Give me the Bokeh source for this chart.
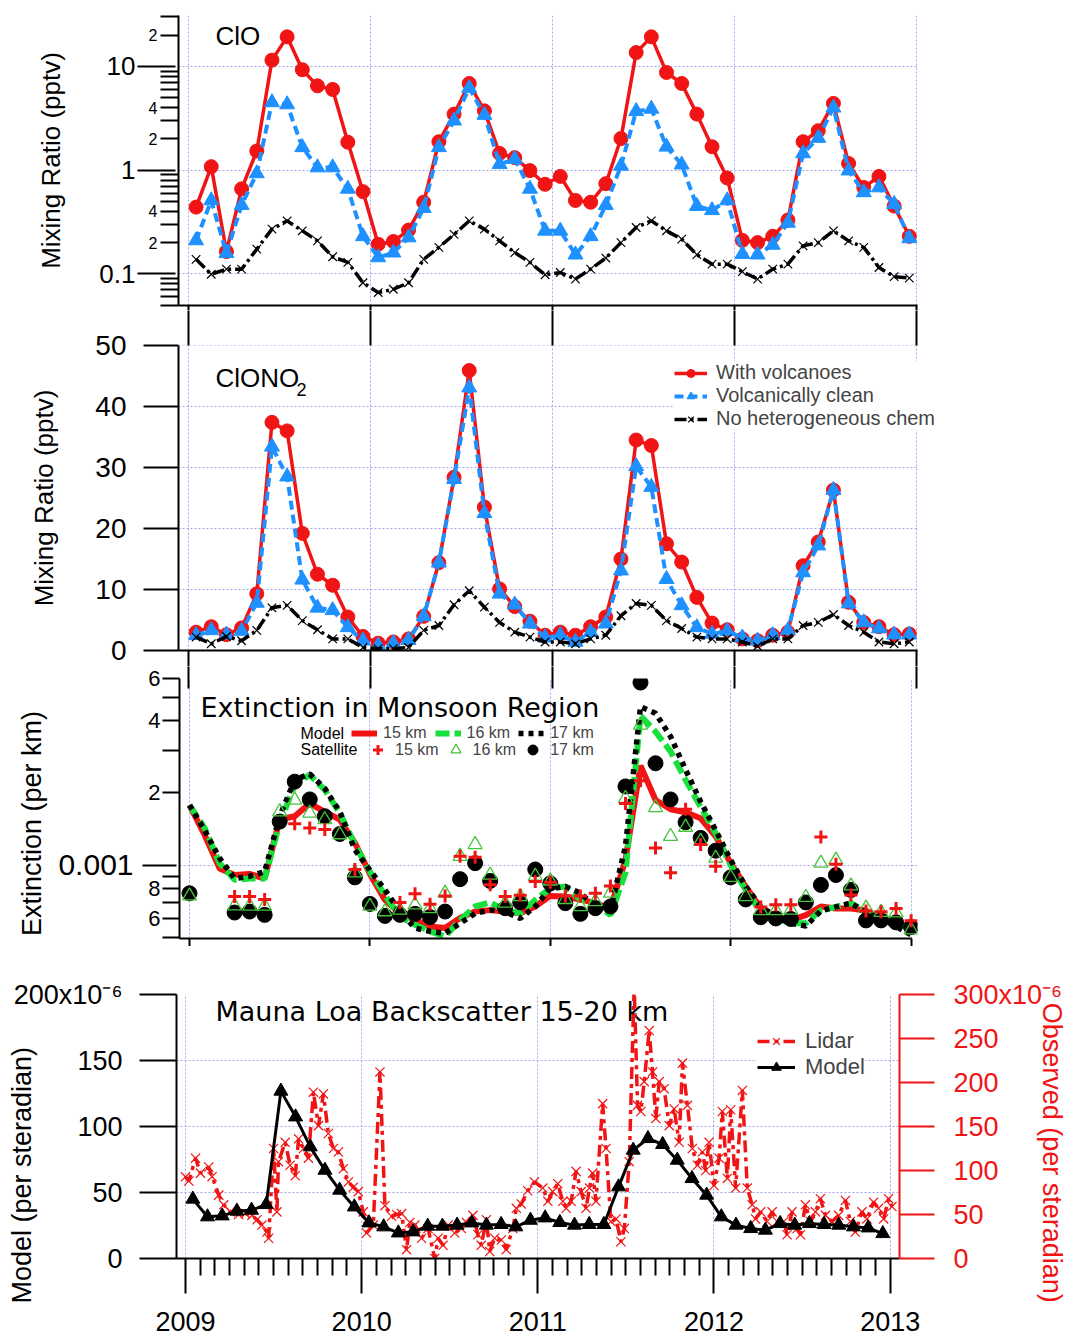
import numpy as np
from bokeh.plotting import figure
from bokeh.models import (Range1d, LinearAxis, LogAxis, FixedTicker, Grid, Label, Legend,
                          LegendItem, CustomJSTickFormatter)
from bokeh.embed import file_html
from bokeh.resources import INLINE

FONT = "Liberation Sans"
TFONT = "DejaVu Sans"
RED = "#f01414"
BLUE = "#1e90ff"
GREEN = "#16e03c"
TRI = "#46c43a"
GRIDC = "#a3a3ee"
NA = np.nan
NBSP = "\u00a0"

# ---------------- time axes ----------------
years = [2009, 2010, 2011, 2012, 2013]
n_months = 48
t_mid = 2009 + (np.arange(n_months) + 0.5) / 12       # mid-month model output
t_start = 2009 + np.arange(n_months + 1) / 12         # month-start (extinction panel)
month_ticks = [2009 + k / 12 for k in range(1, 48) if k % 12]

# ---------------- panel 1: ClO (pptv) ----------------
clo_volc = [0.44, 1.08, 0.164, 0.66, 1.53, 11.5, 19.3, 9.3, 6.5, 6.0, 1.86, 0.62,
            0.193, 0.205, 0.264, 0.49, 1.88, 3.47, 6.85, 3.73, 1.45, 1.32, 0.99, 0.73,
            0.87, 0.51, 0.49, 0.74, 2.02, 13.6, 19.3, 8.75, 6.85, 3.47, 1.68, 0.84,
            0.21, 0.20, 0.23, 0.33, 1.88, 2.4, 4.4, 1.16, 0.68, 0.87, 0.45, 0.23]
clo_clean = [0.21, 0.51, 0.158, 0.46, 0.93, 4.5, 4.3, 1.66, 1.06, 1.06, 0.66, 0.23,
             0.144, 0.16, 0.224, 0.43, 1.66, 3.0, 6.2, 3.4, 1.14, 1.28, 0.66, 0.26,
             0.26, 0.153, 0.23, 0.46, 1.1, 3.7, 3.9, 1.68, 1.13, 0.45, 0.41, 0.51,
             0.155, 0.153, 0.19, 0.31, 1.45, 2.04, 4.0, 0.99, 0.61, 0.68, 0.47, 0.22]
clo_nohet = [0.138, 0.099, 0.111, 0.111, 0.173, 0.27, 0.324, 0.26, 0.208, 0.146, 0.129, 0.082,
             0.066, 0.071, 0.082, 0.138, 0.18, 0.24, 0.324, 0.27, 0.208, 0.16, 0.129, 0.098,
             0.103, 0.089, 0.111, 0.142, 0.2, 0.28, 0.324, 0.26, 0.216, 0.153, 0.124, 0.124,
             0.105, 0.089, 0.111, 0.124, 0.186, 0.2, 0.26, 0.208, 0.18, 0.115, 0.094, 0.091]
clo_major = [0.1, 1, 10]
clo_minor_lab = [0.2, 0.4, 2, 4, 20]
clo_minor = [0.05, 0.06, 0.07, 0.08, 0.09, 0.3, 0.5, 0.6, 0.7, 0.8, 0.9,
             3, 5, 6, 7, 8, 9, 30]

# ---------------- panel 2: ClONO2 (pptv) ----------------
clono2_volc = [3.0, 3.9, 2.6, 3.7, 9.3, 37.4, 36.0, 19.2, 12.5, 10.7, 5.5, 2.3,
               1.2, 1.4, 1.9, 5.6, 14.4, 28.4, 45.9, 23.5, 10.1, 7.2, 4.8, 2.5,
               3.0, 2.5, 3.9, 5.5, 15.0, 34.5, 33.6, 17.5, 14.5, 8.7, 4.5, 3.4,
               1.9, 1.6, 2.5, 3.0, 13.9, 17.8, 26.3, 7.9, 4.6, 3.9, 2.6, 2.7]
clono2_clean = [2.5, 3.3, 2.6, 3.2, 7.8, 33.4, 28.5, 11.6, 7.0, 6.6, 3.8, 1.6,
                0.8, 1.2, 1.7, 5.6, 14.4, 28.1, 43.1, 22.5, 9.3, 7.5, 4.4, 2.1,
                2.5, 1.4, 3.0, 4.4, 13.1, 30.2, 26.8, 11.7, 7.4, 3.8, 2.7, 3.2,
                2.1, 1.6, 2.5, 3.3, 12.8, 17.2, 26.3, 7.7, 4.6, 3.6, 2.6, 2.6]
clono2_nohet = [2.2, 1.1, 2.3, 1.6, 3.3, 7.0, 7.4, 4.9, 3.4, 1.9, 1.9, 0.5,
                0.3, 0.3, 0.5, 3.3, 4.1, 7.5, 9.8, 7.1, 4.6, 3.0, 2.2, 1.4,
                1.4, 1.1, 1.9, 2.5, 5.7, 7.7, 7.4, 4.9, 3.6, 2.2, 1.9, 1.9,
                1.4, 0.7, 1.9, 1.9, 4.1, 4.6, 5.9, 4.1, 3.0, 1.4, 1.1, 1.4]
clono2_ticks = [0, 10, 20, 30, 40, 50]

# ---------------- panel 3: extinction (units of 1e-4 per km) ----------------
EXT_UNIT = 1e-4
mod15 = [17.8, 13.4, 9.7, 9.1, 9.2, 8.8, 15.5, 16.0, 18.1, 16.7, 15.5, 12.4,
         9.2, 7.17, 6.3, 5.92, 5.55, 5.47, 6.03, 6.41, 6.5, 6.41, 6.3, 6.73,
         7.45, 7.4, 7.2, 6.95, 6.6, 10.5, 26.0, 18.7, 17.1, 16.6, 15.7, 13.2,
         10.2, 8.15, 6.62, 6.1, 5.91, 6.2, 6.73, 6.6, 6.6, 6.47, 5.9, 5.7, 5.55]
mod16 = [17.8, 14.3, 10.2, 8.7, 8.8, 8.8, 15.0, 21.6, 23.8, 20.6, 16.5, 12.2,
         9.4, 7.5, 6.1, 5.65, 5.3, 5.05, 5.9, 6.73, 7.0, 6.5, 6.3, 7.17,
         8.0, 8.15, 7.2, 6.95, 6.2, 9.3, 42.0, 36.0, 29.8, 22.7, 17.5, 13.6,
         10.0, 7.9, 6.4, 6.0, 5.73, 5.73, 6.5, 6.7, 6.95, 6.4, 6.1, 5.8, 5.37]
mod17 = [17.8, 14.0, 10.7, 8.8, 9.0, 9.4, 16.0, 22.7, 24.0, 20.9, 16.7, 11.6,
         9.55, 7.9, 6.4, 5.47, 5.3, 5.2, 5.73, 6.3, 6.5, 6.4, 6.0, 6.73,
         8.0, 8.15, 7.65, 6.73, 6.5, 12.0, 45.8, 43.0, 34.4, 25.0, 18.4, 14.0,
         10.5, 8.15, 6.73, 6.1, 5.73, 5.58, 6.45, 6.7, 6.95, 6.35, 6.0, 5.55, 5.13]
sat15 = [NA, NA, NA, 7.4, 7.4, 7.2, NA, 14.9, 14.3, 14.1, NA, 9.6,
         NA, NA, 7.0, 7.6, 6.87, 7.45, 10.9, 10.8, 8.3, 7.4, 7.5, 8.55,
         8.5, 7.45, 7.45, 7.65, 8.2, 18.1, 22.5, 11.8, 9.3, 17.1, 12.2, 9.9,
         NA, NA, 6.7, 6.84, 6.84, NA, 13.1, 10.1, 7.52, 6.45, 6.4, 6.6, 5.87]
sat16 = [7.45, NA, NA, 6.77, 6.75, 6.75, 16.7, 18.7, 16.5, 15.5, 13.4, 9.3,
         6.75, 6.4, 6.5, 6.84, 6.6, 7.65, 10.9, 12.2, 9.1, 6.95, 7.4, 9.0,
         8.6, 7.2, 6.73, 7.06, 7.65, 19.0, 38.4, 17.4, 13.2, 14.4, 12.6, 10.7,
         8.9, 7.4, 6.47, 6.47, 6.5, 7.35, 10.2, 10.5, 8.2, 6.64, 6.36, 6.33, 5.38]
sat17 = [7.64, NA, NA, 6.35, 6.41, 6.21, 15.2, 22.3, 18.8, 16.0, 13.5, 8.9,
         6.9, 6.15, 6.21, 6.27, 6.08, 6.41, 8.75, 10.2, 8.6, 6.62, 7.0, 9.6,
         8.4, 6.95, 6.27, 6.62, 6.73, 21.3, 57.7, 26.6, 18.8, 15.1, 13.0, 11.5,
         8.9, 7.2, 6.07, 6.0, 5.97, 7.0, 8.28, 9.1, 7.89, 5.89, 5.89, 5.78, 5.52]
ext_major = [0.001]
ext_minor_lab = [6e-4, 8e-4, 2e-3, 4e-3, 6e-3]
ext_minor = [5e-4, 7e-4, 9e-4, 3e-3, 5e-3]

# ---------------- panel 4: Mauna Loa backscatter (1e-6 per sr) ----------------
bs_model = [45, 31.6, 32.3, 35.9, 36.6, 40.9, 126.8, 107.3, 84.6, 66.9, 51.8, 39.1,
            27.0, 24.0, 19.4, 20.2, 24.5, 24.5, 25.3, 27.0, 25.3, 25.8, 24.0, 29.0,
            30.8, 27.3, 25.3, 25.8, 25.8, 54.3, 82.1, 90.9, 86.4, 74.5, 60.6, 48.0,
            31.6, 25.3, 22.7, 21.5, 26.5, 25.3, 26.5, 25.8, 25.3, 24.0, 23.2, 18.9]
lidar_yr = [0.000, 0.019, 0.057, 0.085, 0.132, 0.151, 0.189, 0.217, 0.255, 0.302, 0.340, 0.377,
            0.406, 0.434, 0.462, 0.472, 0.500, 0.519, 0.528, 0.566, 0.594, 0.623, 0.642, 0.670,
            0.698, 0.726, 0.755, 0.783, 0.811, 0.840, 0.868, 0.896, 0.925, 0.953, 0.981, 1.009,
            1.028, 1.066, 1.104, 1.132, 1.170, 1.198, 1.227, 1.255, 1.274, 1.302, 1.340, 1.377,
            1.415, 1.434, 1.462, 1.491, 1.528, 1.566, 1.595, 1.632, 1.660, 1.679, 1.708, 1.727,
            1.755, 1.793, 1.821, 1.858, 1.878, 1.906, 1.943, 1.981,
            2.028, 2.057, 2.085, 2.113, 2.142, 2.161, 2.189, 2.217, 2.246, 2.274, 2.293, 2.311,
            2.330, 2.368, 2.387, 2.415, 2.444, 2.472, 2.491, 2.519, 2.547, 2.566, 2.585, 2.604,
            2.632, 2.651, 2.670, 2.689, 2.717, 2.746, 2.774, 2.802, 2.821, 2.849, 2.877, 2.906,
            2.934, 2.953, 2.972, 3.000, 3.029, 3.047, 3.076, 3.095, 3.123, 3.161, 3.189, 3.217,
            3.236, 3.265, 3.302, 3.330, 3.359, 3.397, 3.415, 3.443, 3.472, 3.491, 3.519, 3.548,
            3.576, 3.604, 3.633, 3.670, 3.708, 3.746, 3.774, 3.802, 3.840, 3.868, 3.906, 3.934,
            3.963, 3.991, 4.010]
lidar_val = [92.8, 88, 114, 97, 104, 93, 72, 61, 53, 50, 51, 49,
             44, 38, 30, 23, 125, 53, 110, 132, 106, 94, 136, 125,
             114, 189, 151, 187, 142, 125, 121, 102, 87, 81, 76, 53,
             29, 38, 212, 60, 48, 50, 51, 10, 41, 38, 23, 34,
             0, 23, 15, 38, 29, 34, 41, 49, 27, 15, 44, 8,
             23, 21, 10, 34, 57, 62, 77, 87,
             80, 65, 76, 85, 65, 57, 65, 99, 76, 57, 80, 97,
             65, 176, 125, 42, 45, 19, 34, 110, 310, 174, 167, 201,
             259, 212, 159, 201, 193, 151, 170, 132, 222, 174, 125, 106,
             121, 100, 132, 83, 114, 167, 91, 169, 80, 191, 80, 61,
             45, 53, 42, 53, 42, 42, 27, 53, 34, 27, 61, 42,
             53, 68, 49, 42, 49, 66, 42, 30, 53, 45, 64, 57,
             45, 68, 59]
bs_left_ticks = [0, 50, 100, 150, 200]
bs_right_ticks = [0, 50, 100, 150, 200, 250, 300]

# ---------------- ranges (decimal years) ----------------
X1 = (2008.9451, 2013.0033)      # panel 1 frame 178..917
X2 = (2008.9451, 2013.2779)      # panel 2 frame 178..967 (room for legend)
X2_AXIS_END = 2013.0033
X3 = (2008.9446, 2013.0355)      # panel 3 frame 179..917
X3_P2 = (2008.9506, 2013.0033)   # panel-2 mapping seen from panel 3 frame
X4 = (2008.949, 2013.053)        # panel 4 frame 176..901


def make_fig(height, xr, yr, ytype, left, right, top, bottom):
    p = figure(width=1070, height=height, x_range=Range1d(*xr), y_range=Range1d(*yr),
               y_axis_type=ytype, output_backend="svg", toolbar_location=None,
               min_border_left=left, min_border_right=right,
               min_border_top=top, min_border_bottom=bottom)
    p.outline_line_color = None
    p.grid.visible = False
    p.background_fill_color = "white"
    p.border_fill_color = "white"
    return p


def style_axis(ax, tick_out, minor_out=0, font_size="26px", standoff=5, color="black"):
    ax.axis_line_width = 2
    ax.axis_line_color = color
    ax.major_tick_line_width = 2
    ax.major_tick_line_color = color
    ax.minor_tick_line_width = 2
    ax.minor_tick_line_color = color
    ax.major_tick_out = tick_out
    ax.major_tick_in = 0
    ax.minor_tick_out = minor_out
    ax.minor_tick_in = 0
    ax.major_label_text_font = FONT
    ax.major_label_text_font_size = font_size
    ax.major_label_text_color = color
    ax.major_label_standoff = standoff
    ax.axis_label_text_font = FONT
    ax.axis_label_text_font_style = "normal"
    ax.axis_label_text_color = color


def tick_only(ax, out, tin=0, line=True, bounds=None):
    """Year tick marks without labels (drawn as minor ticks)."""
    ax.ticker = FixedTicker(ticks=[], minor_ticks=years)
    ax.major_tick_out = 0
    ax.major_tick_in = 0
    ax.major_label_standoff = 0
    ax.minor_tick_out = out
    ax.minor_tick_in = tin
    ax.minor_tick_line_width = 2
    ax.minor_tick_line_color = "black"
    ax.axis_line_width = 2
    ax.axis_line_color = "black" if line else None
    if bounds is not None:
        ax.bounds = bounds


def add_grid(p, dim, ticks):
    g = Grid(dimension=dim, ticker=FixedTicker(ticks=ticks), grid_line_color=GRIDC,
             grid_line_dash="2 2", grid_line_width=1)
    p.add_layout(g)


def frame_label(p, x, y, text, size, font=FONT, baseline="middle", level="annotation"):
    lab = Label(x=x, y=y, x_units="screen", y_units="screen", text=text,
                text_font=font, text_font_size=size, text_align="left",
                text_baseline=baseline, text_color="black")
    lab.level = level
    p.add_layout(lab)


num_fmt = CustomJSTickFormatter(code="return String(Math.round(tick * 1000) / 1000);")
lead_fmt = CustomJSTickFormatter(
    code="const e = Math.floor(Math.log10(tick) + 1e-9); return String(Math.round(tick / Math.pow(10, e)));")

# ================= Panel 1 : ClO =================
p1 = make_fig(310, X1, (0.0495, 31), "log", 178, 153, 15, 5)
tick_only(p1.below[0], 5)
ya = p1.left[0]                                   # inner axis: 2/4 sub-decade labels
ya.ticker = FixedTicker(ticks=clo_minor_lab, minor_ticks=clo_minor)
ya.formatter = lead_fmt
style_axis(ya, 18, 18, "16px", 3)
yb = LogAxis(ticker=FixedTicker(ticks=clo_major), formatter=num_fmt)   # outer: decades
style_axis(yb, 8, 0, "26px", 2)
yb.major_tick_in = 30
yb.axis_line_color = None
yb.axis_label = "Mixing Ratio (pptv)"
yb.axis_label_text_font_size = "26px"
yb.axis_label_standoff = 30
p1.add_layout(yb, "left")
add_grid(p1, 0, years)
add_grid(p1, 1, clo_major)

p1.line(t_mid, clo_volc, color=RED, line_width=3.5)
p1.scatter(t_mid, clo_volc, marker="circle", size=14, color=RED)
p1.line(t_mid, clo_clean, color=BLUE, line_width=4, line_dash="9 5")
p1.scatter(t_mid, clo_clean, marker="triangle", size=15, color=BLUE)
p1.line(t_mid, clo_nohet, color="black", line_width=3.5, line_dash="12 4 3 4")
p1.scatter(t_mid, clo_nohet, marker="x", size=12, line_color="black", line_width=1.2)
frame_label(p1, 37, 270, "ClO", "26px")

# ================= Panel 2 : ClONO2 =================
p2 = make_fig(356, X2, (0, 50), "linear", 178, 103, 35, 16)
tick_only(p2.below[0], 16, bounds=(X2[0], X2_AXIS_END))
top2 = LinearAxis()
tick_only(top2, 35, 0, line=False)
p2.add_layout(top2, "above")
ya = p2.left[0]
ya.ticker = FixedTicker(ticks=clono2_ticks)
ya.formatter = num_fmt
style_axis(ya, 35, 0, "28px", 17)
ya.axis_label = "Mixing Ratio (pptv)"
ya.axis_label_text_font_size = "26px"
ya.axis_label_standoff = 33
add_grid(p2, 0, years)
gy = clono2_ticks[1:]
p2.segment(x0=[X2[0]] * len(gy), y0=gy, x1=[X2_AXIS_END] * len(gy), y1=gy,
           line_color=GRIDC, line_dash="2 2", line_width=1, level="underlay")

r_v_l = p2.line(t_mid, clono2_volc, color=RED, line_width=3.5)
r_v_s = p2.scatter(t_mid, clono2_volc, marker="circle", size=14, color=RED)
r_c_l = p2.line(t_mid, clono2_clean, color=BLUE, line_width=4, line_dash="9 5")
r_c_s = p2.scatter(t_mid, clono2_clean, marker="triangle", size=15, color=BLUE)
r_n_l = p2.line(t_mid, clono2_nohet, color="black", line_width=3.5, line_dash="12 4 3 4")
r_n_s = p2.scatter(t_mid, clono2_nohet, marker="x", size=12, line_color="black", line_width=1.2)
leg2 = Legend(items=[LegendItem(label="With volcanoes", renderers=[r_v_l, r_v_s]),
                     LegendItem(label="Volcanically clean", renderers=[r_c_l, r_c_s]),
                     LegendItem(label="No heterogeneous chem", renderers=[r_n_l, r_n_s])],
              location=(496, 220), orientation="vertical",
              background_fill_color="white", background_fill_alpha=1.0,
              border_line_color=None, label_text_font=FONT, label_text_font_size="20px",
              glyph_width=33, glyph_height=20, label_height=20, label_standoff=9,
              spacing=0, padding=4, margin=0)
p2.add_layout(leg2)
frame_label(p2, 37, 273, "ClONO", "26px")
frame_label(p2, 118, 261, "2", "18px")

# ================= Panel 3 : Extinction =================
p3 = make_fig(280, X3, (4.95e-4, 6.0e-3), "log", 179, 153, 12, 8)
p3.extra_x_ranges = {"p2": Range1d(*X3_P2)}
tick_only(p3.below[0], 8, bounds=(X3[0], 2013.0))
top3 = LinearAxis(x_range_name="p2")
tick_only(top3, 12, 10, line=False)
p3.add_layout(top3, "above")
ya = p3.left[0]
ya.ticker = FixedTicker(ticks=ext_minor_lab, minor_ticks=ext_minor)
ya.formatter = lead_fmt
style_axis(ya, 17, 17, "22px", 2)
yb = LogAxis(ticker=FixedTicker(ticks=ext_major), formatter=num_fmt)
style_axis(yb, 3, 0, "30px", 9)
yb.major_tick_in = 31
yb.axis_line_color = None
yb.axis_label = "Extinction (per km)" + NBSP * 4
yb.axis_label_text_font_size = "27px"
yb.axis_label_standoff = 8
p3.add_layout(yb, "left")
add_grid(p3, 0, years)
add_grid(p3, 1, ext_major)

e15 = np.array(mod15) * EXT_UNIT
e16 = np.array(mod16) * EXT_UNIT
e17 = np.array(mod17) * EXT_UNIT
s15 = np.array(sat15, dtype=float) * EXT_UNIT
s16 = np.array(sat16, dtype=float) * EXT_UNIT
s17 = np.array(sat17, dtype=float) * EXT_UNIT
m15 = p3.line(t_start, e15, color=RED, line_width=6)
m16 = p3.line(t_start, e16, color=GREEN, line_width=6, line_dash="14 5")
m17 = p3.line(t_start, e17, color="black", line_width=5.5, line_dash="5 5")
o17 = p3.scatter(t_start, s17, marker="circle", size=15, color="black")
o16 = p3.scatter(t_start, s16, marker="triangle", size=14, fill_color=None,
                 line_color=TRI, line_width=1.3)
o15 = p3.scatter(t_start, s15, marker="cross", size=13, line_color=RED, line_width=3)
leg3a = Legend(items=[LegendItem(label="15 km", renderers=[m15]),
                      LegendItem(label="16 km", renderers=[m16]),
                      LegendItem(label="17 km", renderers=[m17])],
               location=(172, 196), orientation="horizontal",
               background_fill_alpha=0, border_line_color=None,
               label_text_font=FONT, label_text_font_size="16px",
               glyph_width=26, glyph_height=14, label_height=14, label_standoff=6,
               spacing=8, padding=0, margin=0)
leg3b = Legend(items=[LegendItem(label="15 km", renderers=[o15]),
                      LegendItem(label="16 km", renderers=[o16]),
                      LegendItem(label="17 km", renderers=[o17])],
               location=(186, 176), orientation="horizontal",
               background_fill_alpha=0, border_line_color=None,
               label_text_font=FONT, label_text_font_size="16px",
               glyph_width=25, glyph_height=25, label_height=14, label_standoff=5,
               spacing=4, padding=0, margin=0)
p3.add_layout(leg3a)
p3.add_layout(leg3b)
frame_label(p3, 121, 205, "Model", "16px")
frame_label(p3, 121, 189, "Satellite", "16px")
frame_label(p3, 21, 231, "Extinction in Monsoon Region", "27px", font=TFONT,
            baseline="alphabetic")

# ================= Panel 4 : Mauna Loa backscatter =================
p4 = make_fig(396, X4, (0, 200), "linear", 176, 169, 48, 84)
p4.extra_y_ranges = {"obs": Range1d(0, 300)}
xa = p4.below[0]
xa.ticker = FixedTicker(ticks=years, minor_ticks=month_ticks)
style_axis(xa, 35, 17, "27px", 18)
xa.formatter = num_fmt
ya = p4.left[0]
ya.ticker = FixedTicker(ticks=bs_left_ticks)
ya.formatter = CustomJSTickFormatter(
    code="return tick >= 200 ? '200x10\u207b\u2076' : String(tick);")
style_axis(ya, 37, 0, "27px", 17)
ya.axis_label = "Model (per steradian)" + NBSP * 13
ya.axis_label_text_font_size = "27px"
ya.axis_label_standoff = -26
ra = LinearAxis(y_range_name="obs", ticker=FixedTicker(ticks=bs_right_ticks))
ra.formatter = CustomJSTickFormatter(
    code="return tick >= 300 ? '300x10\u207b\u2076' : String(tick);")
style_axis(ra, 35, 0, "27px", 19, color=RED)
ra.axis_label = NBSP * 7 + "Observed (per steradian)"
ra.axis_label_text_font_size = "27px"
ra.axis_label_standoff = -28
p4.add_layout(ra, "right")
add_grid(p4, 0, years)
add_grid(p4, 1, bs_left_ticks[1:])

lid_t = 2009 + np.array(lidar_yr)
rl1 = p4.line(lid_t, lidar_val, y_range_name="obs", color=RED, line_width=3.5,
              line_dash="12 5 4 5")
rl2 = p4.scatter(lid_t, lidar_val, y_range_name="obs", marker="x", size=13,
                 line_color=RED, line_width=1.2)
rm1 = p4.line(t_mid, bs_model, color="black", line_width=3)
rm2 = p4.scatter(t_mid, bs_model, marker="triangle", size=14, color="black")
leg4 = Legend(items=[LegendItem(label="Lidar", renderers=[rl1, rl2]),
                     LegendItem(label="Model", renderers=[rm1, rm2])],
              location=(581, 178), orientation="vertical",
              background_fill_color="white", background_fill_alpha=1.0,
              border_line_color=None, label_text_font=FONT, label_text_font_size="22px",
              glyph_width=38, glyph_height=24, label_height=22, label_standoff=10,
              spacing=0, padding=4, margin=0)
p4.add_layout(leg4)
frame_label(p4, 39, 247, "Mauna Loa Backscatter 15-20 km", "27px", font=TFONT,
            baseline="alphabetic", level="underlay")

# four independent roots, stacked top to bottom (no cross-plot frame alignment)
open("out.html", "w", encoding="utf-8").write(file_html([p1, p2, p3, p4], INLINE))
